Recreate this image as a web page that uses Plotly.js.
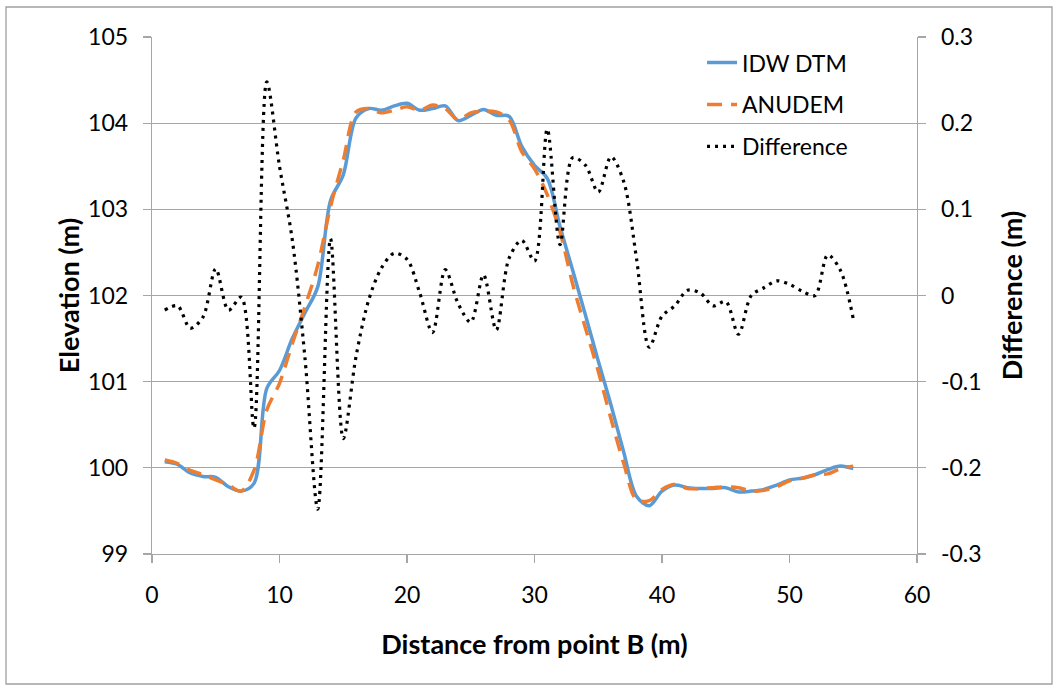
<!DOCTYPE html>
<html>
<head>
<meta charset="utf-8">
<script src="https://cdn.plot.ly/plotly-3.0.1.min.js"></script>
<style>
  html, body { margin: 0; padding: 0; background: #ffffff; }
  #chart { width: 1058px; height: 686px; }
</style>
</head>
<body>
<div id="chart"></div>
<script>
// Distance from point B (m)
const distance = [1,2,3,4,5,6,7,8,9,10,11,12,13,14,15,16,17,18,19,20,21,22,23,24,25,26,27,28,29,30,31,32,33,34,35,36,37,38,39,40,41,42,43,44,45,46,47,48,49,50,51,52,53,54,55];

// Elevation (m) – IDW DTM
const idwDtm = [100.07,100.04,99.94,99.90,99.89,99.78,99.73,99.82,100.92,101.13,101.50,101.80,102.10,103.10,103.40,104.06,104.17,104.15,104.20,104.23,104.15,104.17,104.20,104.03,104.09,104.16,104.09,104.08,103.73,103.51,103.36,102.80,102.29,101.77,101.24,100.73,100.18,99.67,99.56,99.73,99.80,99.77,99.76,99.76,99.77,99.72,99.73,99.75,99.80,99.86,99.88,99.92,99.98,100.02,99.99];

// Elevation (m) – ANUDEM
const anudem = [100.09,100.05,99.97,99.92,99.86,99.80,99.73,99.97,100.67,100.98,101.44,101.87,102.35,103.03,103.57,104.13,104.17,104.12,104.15,104.19,104.15,104.21,104.17,104.04,104.12,104.14,104.13,104.04,103.67,103.47,103.17,102.74,102.13,101.62,101.12,100.57,100.05,99.63,99.62,99.75,99.81,99.76,99.76,99.77,99.78,99.77,99.73,99.74,99.78,99.85,99.88,99.92,99.93,99.99,100.02];

// Difference (m)
const difference = [-0.017,-0.012,-0.038,-0.025,0.031,-0.017,-0.002,-0.154,0.248,0.150,0.065,-0.073,-0.248,0.066,-0.166,-0.071,-0.005,0.032,0.049,0.042,0.003,-0.043,0.030,-0.009,-0.031,0.024,-0.040,0.043,0.064,0.040,0.193,0.059,0.160,0.151,0.120,0.161,0.132,0.043,-0.060,-0.024,-0.012,0.006,0.003,-0.012,-0.007,-0.045,0.000,0.009,0.017,0.013,0.005,0.000,0.047,0.029,-0.027];

// Tick labels
const xTickVals = [0,10,20,30,40,50,60];
const yTickVals = [99,100,101,102,103,104,105];
const y2TickVals = [-0.3,-0.2,-0.1,0,0.1,0.2,0.3];
const y2TickText = ['-0.3','-0.2','-0.1','0','0.1','0.2','0.3'];

const FONT = 'Lato, "Open Sans", "Liberation Sans", sans-serif';
const GRID = '#a6a6a6';

const traces = [
  {
    x: distance, y: idwDtm, name: 'IDW DTM', type: 'scatter', mode: 'lines',
    line: { color: '#5B9BD5', width: 3.5, shape: 'spline', smoothing: 0.9 },
    legendgroup: 'a', yaxis: 'y'
  },
  {
    x: distance, y: anudem, name: 'ANUDEM', type: 'scatter', mode: 'lines',
    line: { color: '#ED7D31', width: 3.5, shape: 'spline', smoothing: 0.9, dash: '15px,9px' },
    legendgroup: 'b', yaxis: 'y'
  },
  {
    x: distance, y: difference, name: 'Difference', type: 'scatter', mode: 'lines',
    line: { color: '#000000', width: 3.2, shape: 'spline', smoothing: 0.9, dash: '3px,5px' },
    legendgroup: 'c', yaxis: 'y2'
  }
];

const layout = {
  width: 1058, height: 686,
  paper_bgcolor: '#ffffff', plot_bgcolor: '#ffffff',
  margin: { l: 152, r: 141, t: 37, b: 132, pad: 0 },
  font: { family: FONT, size: 23, color: '#000000' },
  showlegend: true,
  legend: {
    x: 0.719, y: 0.992, xanchor: 'left', yanchor: 'top',
    bgcolor: 'rgba(255,255,255,0)', borderwidth: 0,
    font: { family: FONT, size: 23, color: '#000000' },
    tracegroupgap: 9
  },
  xaxis: {
    range: [0, 60], tickvals: xTickVals, showgrid: false, zeroline: false,
    showline: true, linecolor: GRID, linewidth: 1.3,
    ticks: 'outside', ticklen: 8, tickcolor: GRID, tickwidth: 1.3,
    ticklabelstandoff: 12,
    tickfont: { family: FONT, size: 23, color: '#000000' },
    title: { text: 'Distance from point B (m)', font: { family: FONT, size: 27, color: '#000000', weight: 'bold' }, standoff: 28 }
  },
  yaxis: {
    range: [99, 105], tickvals: yTickVals, showgrid: true, gridcolor: GRID, gridwidth: 1.3,
    zeroline: false, showline: true, linecolor: GRID, linewidth: 1.3,
    ticks: 'outside', ticklen: 8, tickcolor: GRID, tickwidth: 1.3,
    ticklabelstandoff: 10,
    tickfont: { family: FONT, size: 23, color: '#000000' },
    title: { text: 'Elevation (m)', font: { family: FONT, size: 27, color: '#000000', weight: 'bold' }, standoff: 0 }
  },
  yaxis2: {
    range: [-0.3, 0.3], tickvals: y2TickVals, ticktext: y2TickText,
    overlaying: 'y', side: 'right', showgrid: false, zeroline: false,
    showline: true, linecolor: GRID, linewidth: 1.3,
    ticks: 'outside', ticklen: 8, tickcolor: GRID, tickwidth: 1.3,
    ticklabelstandoff: 10,
    tickfont: { family: FONT, size: 23, color: '#000000' },
    title: { text: 'Difference (m)', font: { family: FONT, size: 27, color: '#000000', weight: 'bold' }, standoff: 22 }
  },
  shapes: [
    {
      type: 'rect', xref: 'paper', yref: 'paper',
      x0: (6 - 152) / 765, x1: (1052 - 152) / 765,
      y0: (554 - 684) / 517, y1: (554 - 7) / 517,
      line: { color: '#a0a0a0', width: 1.3 }, fillcolor: 'rgba(0,0,0,0)', layer: 'below'
    }
  ]
};

Plotly.newPlot('chart', traces, layout, { displayModeBar: false, staticPlot: true });
</script>
</body>
</html>
